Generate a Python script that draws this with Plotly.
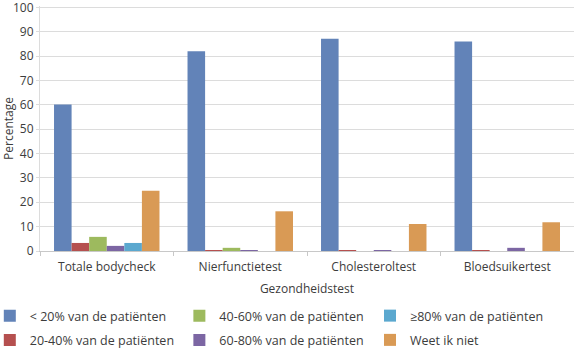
import plotly.graph_objects as go

categories = ["Totale bodycheck", "Nierfunctietest", "Cholesteroltest", "Bloedsuikertest"]
series_names = ["< 20% van de patiënten", "20-40% van de patiënten", "40-60% van de patiënten",
                "60-80% van de patiënten", "≥80% van de patiënten", "Weet ik niet"]
lt20 = [60.2, 82.0, 87.2, 86.0]
p20_40 = [3.3, 0.4, 0.3, 0.3]
p40_60 = [5.8, 1.3, 0.0, 0.0]
p60_80 = [2.1, 0.4, 0.3, 1.3]
ge80 = [3.3, 0.0, 0.0, 0.0]
weet = [24.7, 16.3, 11.1, 11.8]
values = [lt20, p20_40, p40_60, p60_80, ge80, weet]
y_ticks = list(range(0, 101, 10))
colors = ["#6283b8", "#b5504f", "#9dba5e", "#7c66a3", "#5ba8cf", "#d99a55"]
legend_ids = ["legend", "legend", "legend2", "legend2", "legend3", "legend3"]

font_family = "Open Sans"
text_color = "#3c3c3c"

fig = go.Figure()
for i, (name, vals, col, lg) in enumerate(zip(series_names, values, colors, legend_ids)):
    fig.add_trace(go.Bar(x=categories, y=vals, name=name, marker=dict(color=col, line=dict(width=0)),
                         legend=lg, legendgroup=f"g{i}"))

legend_common = dict(orientation="v", xanchor="left", yref="container",
                     yanchor="top", font=dict(family=font_family, size=12.5, color=text_color),
                     bgcolor="rgba(0,0,0,0)", tracegroupgap=5, itemwidth=30,
                     traceorder="grouped")

leg_y = 0.14
fig.update_layout(
    width=574, height=350,
    margin=dict(l=40, r=0, t=6, b=99, autoexpand=False),
    paper_bgcolor="white", plot_bgcolor="white",
    font=dict(family=font_family, size=12, color=text_color),
    barmode="group", bargap=0.21, bargroupgap=0,
    showlegend=True,
    legend=dict(x=-0.094, y=leg_y, **legend_common),
    legend2=dict(x=0.261, y=leg_y, **legend_common),
    legend3=dict(x=0.618, y=leg_y, **legend_common),
    xaxis=dict(title=dict(text="Gezondheidstest", standoff=10, font=dict(size=12)),
               tickson="boundaries", ticks="outside", ticklen=4, tickcolor="#c8c8c8",
               showline=True, linecolor="#c8c8c8", linewidth=1, showgrid=False,
               ticklabelstandoff=5, tickfont=dict(size=12)),
    yaxis=dict(title=dict(text="Percentage", standoff=6, font=dict(size=12)),
               range=[0, 100.6], tickvals=y_ticks, showgrid=True,
               gridcolor="#dcdcdc", gridwidth=1, ticklabeloverflow="allow",
               showline=True, linecolor="#dcdcdc", ticks="outside", ticklen=3,
               tickcolor="#dcdcdc", zeroline=False, tickfont=dict(size=12)),
)

fig.write_html("out.html")
